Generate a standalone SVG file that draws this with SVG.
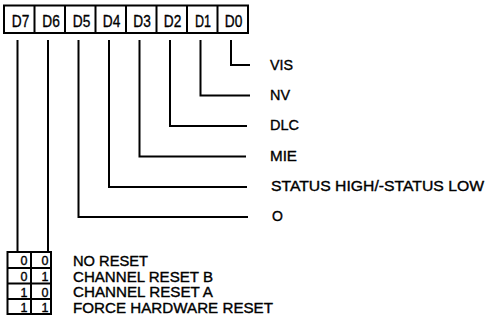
<svg xmlns="http://www.w3.org/2000/svg" width="485" height="327" viewBox="0 0 485 327">
<style>
text{font-family:"Liberation Sans",Arial,sans-serif;fill:#000;stroke:#000;stroke-width:0.35}
.cell{font-size:16.5px;text-anchor:middle}
.lbl{font-size:14px}
.dig{font-size:12.5px;text-anchor:middle}
.box{fill:#fff;stroke:#000;stroke-width:2}
.ln{fill:none;stroke:#000;stroke-width:2}
</style>
<rect width="485" height="327" fill="#fff"/>
<g id="register">
<rect class="box" x="4" y="5.5" width="244" height="27.5"/>
<path class="ln" d="M34.5 5.5V33M65 5.5V33M95.5 5.5V33M126 5.5V33M156.5 5.5V33M187 5.5V33M217.5 5.5V33"/>
<text class="cell" x="20.5" y="26.5" textLength="17.5" lengthAdjust="spacingAndGlyphs">D7</text>
<text class="cell" x="51" y="26.5" textLength="17.5" lengthAdjust="spacingAndGlyphs">D6</text>
<text class="cell" x="81.5" y="26.5" textLength="17.5" lengthAdjust="spacingAndGlyphs">D5</text>
<text class="cell" x="111.5" y="26.5" textLength="17.5" lengthAdjust="spacingAndGlyphs">D4</text>
<text class="cell" x="142" y="26.5" textLength="17.5" lengthAdjust="spacingAndGlyphs">D3</text>
<text class="cell" x="172.5" y="26.5" textLength="17.5" lengthAdjust="spacingAndGlyphs">D2</text>
<text class="cell" x="203" y="26.5" textLength="16" lengthAdjust="spacingAndGlyphs">D1</text>
<text class="cell" x="233.5" y="26.5" textLength="17.5" lengthAdjust="spacingAndGlyphs">D0</text>
</g>
<g id="connectors">
<path class="ln" d="M231 40V65H250"/>
<path class="ln" d="M200.5 40V95.5H250"/>
<path class="ln" d="M170 40V126H247"/>
<path class="ln" d="M139.5 40V156.5H246"/>
<path class="ln" d="M109 40V187H247"/>
<path class="ln" d="M78.5 40V217H248"/>
<path class="ln" d="M17.5 40V252"/>
<path class="ln" d="M48 40V252"/>
</g>
<g id="labels">
<text class="lbl" x="270" y="70" textLength="23" lengthAdjust="spacingAndGlyphs">VIS</text>
<text class="lbl" x="270" y="100" textLength="20" lengthAdjust="spacingAndGlyphs">NV</text>
<text class="lbl" x="270" y="130" textLength="29" lengthAdjust="spacingAndGlyphs">DLC</text>
<text class="lbl" x="270" y="161" textLength="27" lengthAdjust="spacingAndGlyphs">MIE</text>
<text class="lbl" x="271" y="191" textLength="213" lengthAdjust="spacingAndGlyphs">STATUS HIGH/-STATUS LOW</text>
<text class="lbl" x="272" y="221">O</text>
</g>
<g id="reset-table">
<rect class="box" x="7.5" y="252" width="43.5" height="62"/>
<path class="ln" d="M31 252V314M7.5 268H51M7.5 283.5H51M7.5 299H51"/>
<text class="dig" x="24" y="265">0</text><text class="dig" x="45" y="265">0</text>
<text class="dig" x="24" y="281">0</text><text class="dig" x="45" y="281">1</text>
<text class="dig" x="24" y="296.5">1</text><text class="dig" x="45" y="296.5">0</text>
<text class="dig" x="24" y="312">1</text><text class="dig" x="45" y="312">1</text>
<text class="lbl" x="73" y="266" textLength="75" lengthAdjust="spacingAndGlyphs">NO RESET</text>
<text class="lbl" x="73" y="282" textLength="140" lengthAdjust="spacingAndGlyphs">CHANNEL RESET B</text>
<text class="lbl" x="73" y="297" textLength="140" lengthAdjust="spacingAndGlyphs">CHANNEL RESET A</text>
<text class="lbl" x="73" y="313" textLength="200" lengthAdjust="spacingAndGlyphs">FORCE HARDWARE RESET</text>
</g>
</svg>
